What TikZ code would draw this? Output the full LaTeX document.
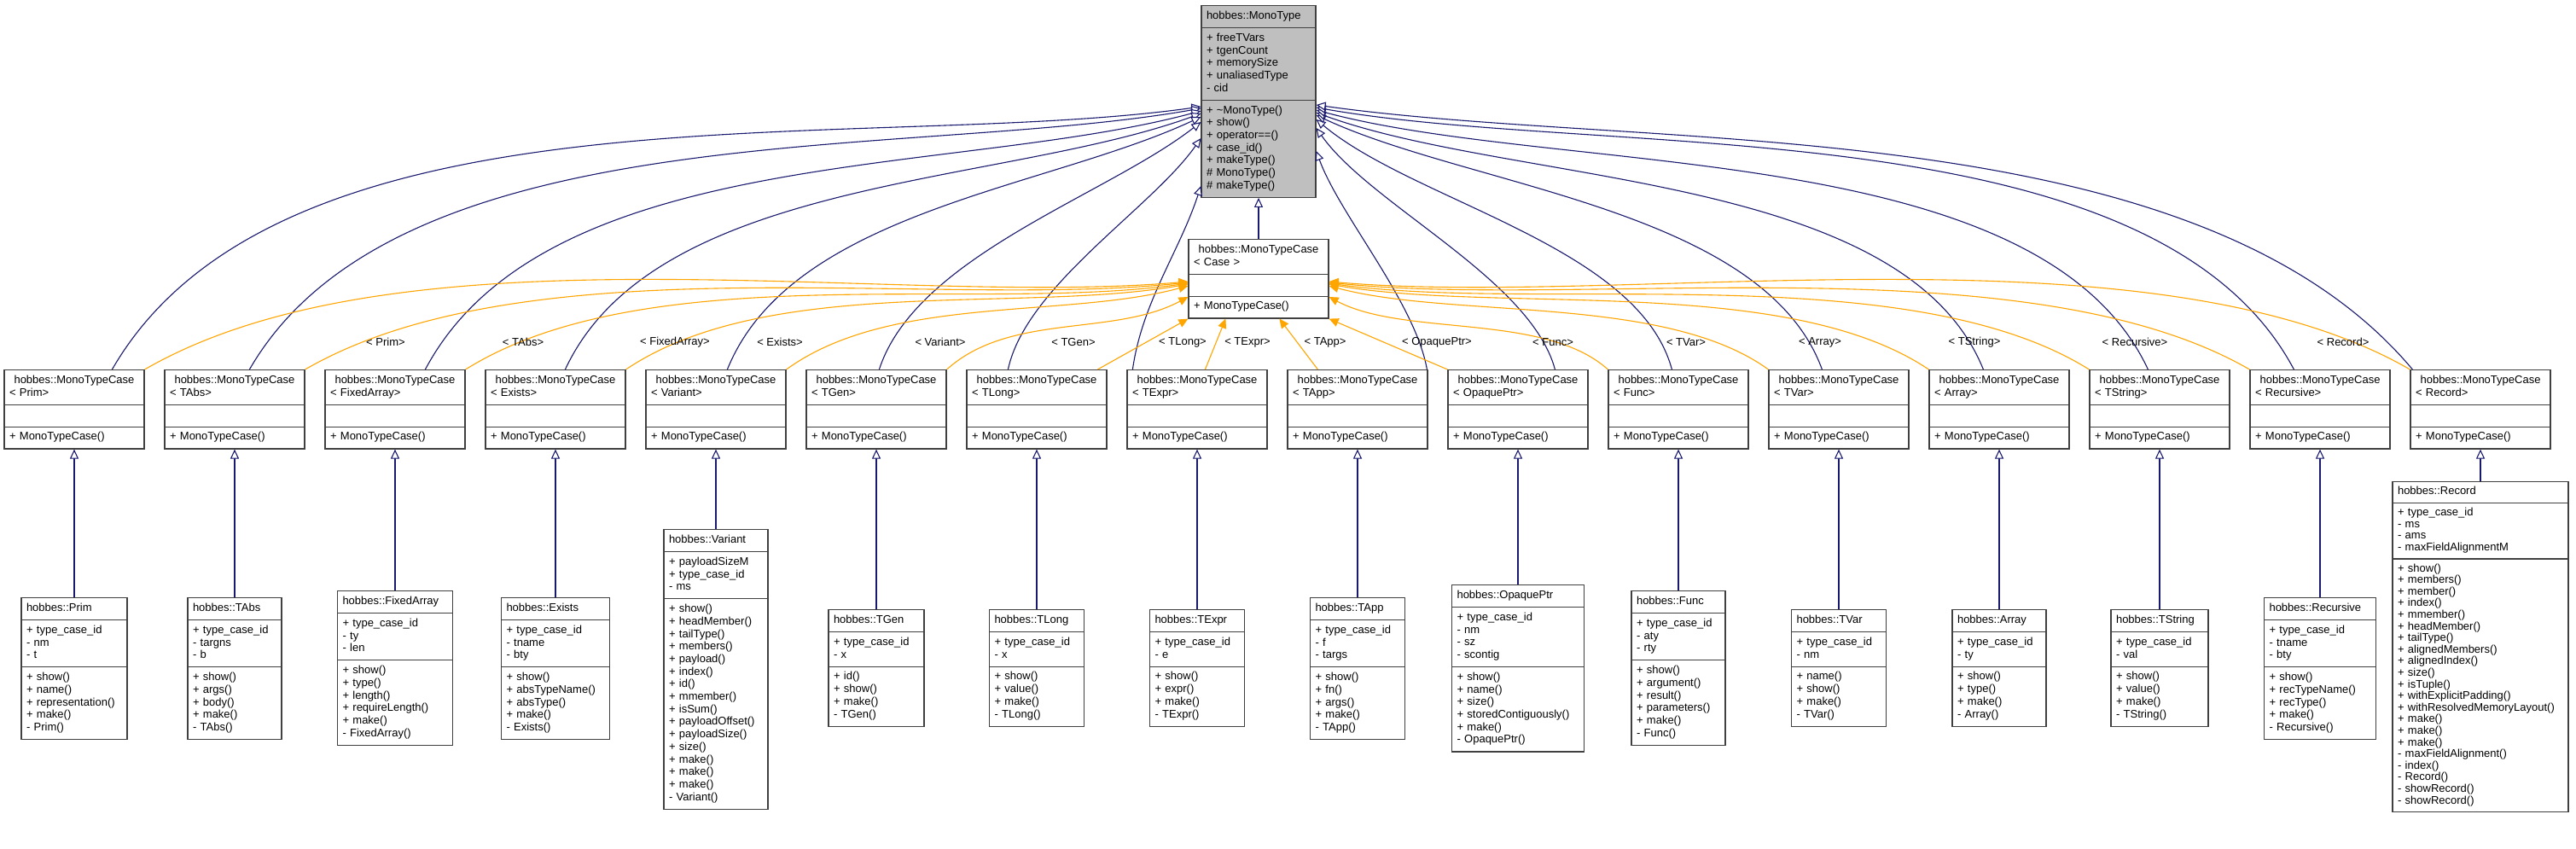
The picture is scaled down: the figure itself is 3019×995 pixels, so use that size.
\documentclass[tikz,border=0pt]{standalone}
\usepackage{fontspec}
\setmainfont{Liberation Sans}
\usetikzlibrary{shapes.multipart,arrows.meta,calc}
\definecolor{boxc}{HTML}{404040}
\definecolor{inhc}{HTML}{191970}
\definecolor{tplc}{HTML}{FFA500}
\newcommand\fs{\fontsize{13}{14.7}\selectfont}
\newcommand\fsr{\fontsize{13}{13.6}\selectfont}
\newcommand\mkcls[8][]{\node[cls=#3,#1] (#2) at (#4,#5) {\centering\strut #6\strut\nodepart{two}\raggedright\strut #7\strut\nodepart{three}\raggedright\strut #8\strut};}
% curve from A leaving at angle o (page angle) to B entering from angle a, control distances d
\newcommand\crv[6]{\draw[#1] (#2) .. controls ($(#2)+(-#4:#6)$) and ($(#3)+(-#5:#6)$) .. (#3);}
\tikzset{
  cls/.style={rectangle split, rectangle split parts=3, draw=boxc, line width=1.2pt, fill=white,
    inner xsep=6pt, inner ysep=5pt, text width=#1 pt, anchor=north, font=\fs},
  inh/.style={draw=inhc, line width=1.1pt, -{Triangle[open,fill=white,length=11pt,width=10pt]}},
  tpl/.style={draw=tplc, line width=1.1pt, -{Triangle[length=11pt,width=10pt]}},
  lbl/.style={font=\fs, inner sep=1pt}
}
\begin{document}
\begin{tikzpicture}[x=1pt,y=-1pt]
\fill[white] (0,0) rectangle (3019,995);
\useasboundingbox (0,0) rectangle (3019,995);
% base classes
\mkcls[fill={rgb,255:red,191;green,191;blue,191}]{mt}{122}{1475}{6}{hobbes::MonoType}
 {+ freeTVars\\+ tgenCount\\+ memorySize\\+ unaliasedType\\- cid}
 {+ \textasciitilde MonoType()\\+ show()\\+ operator==()\\+ case\_id()\\+ makeType()\\\# MonoType()\\\# makeType()}
\mkcls{case}{152}{1475}{280}{hobbes::MonoTypeCase\\< Case >}{}{+ MonoTypeCase()}
% middle row
\foreach \i/\n in {0/Prim,1/TAbs,2/FixedArray,3/Exists,4/Variant,5/TGen,6/TLong,7/TExpr,8/TApp,9/OpaquePtr,10/Func,11/TVar,12/Array,13/TString,14/Recursive,15/Record}
 {\mkcls{m\i}{152}{87+188*\i}{433}{hobbes::MonoTypeCase\\< \n >}{}{+ MonoTypeCase()}}
% bottom row
\mkcls{b0}{112}{87}{700}{hobbes::Prim}{+ type\_case\_id\\- nm\\- t}{+ show()\\+ name()\\+ representation()\\+ make()\\- Prim()}
\mkcls{b1}{98}{275}{700}{hobbes::TAbs}{+ type\_case\_id\\- targns\\- b}{+ show()\\+ args()\\+ body()\\+ make()\\- TAbs()}
\mkcls{b2}{123}{463}{692}{hobbes::FixedArray}{+ type\_case\_id\\- ty\\- len}{+ show()\\+ type()\\+ length()\\+ requireLength()\\+ make()\\- FixedArray()}
\mkcls{b3}{115}{651}{700}{hobbes::Exists}{+ type\_case\_id\\- tname\\- bty}{+ show()\\+ absTypeName()\\+ absType()\\+ make()\\- Exists()}
\mkcls{b4}{110}{839}{620}{hobbes::Variant}{+ payloadSizeM\\+ type\_case\_id\\- ms}{+ show()\\+ headMember()\\+ tailType()\\+ members()\\+ payload()\\+ index()\\+ id()\\+ mmember()\\+ isSum()\\+ payloadOffset()\\+ payloadSize()\\+ size()\\+ make()\\+ make()\\+ make()\\- Variant()}
\mkcls{b5}{100}{1027}{714}{hobbes::TGen}{+ type\_case\_id\\- x}{+ id()\\+ show()\\+ make()\\- TGen()}
\mkcls{b6}{99}{1215}{714}{hobbes::TLong}{+ type\_case\_id\\- x}{+ show()\\+ value()\\+ make()\\- TLong()}
\mkcls{b7}{99}{1403}{714}{hobbes::TExpr}{+ type\_case\_id\\- e}{+ show()\\+ expr()\\+ make()\\- TExpr()}
\mkcls{b8}{99}{1591}{700}{hobbes::TApp}{+ type\_case\_id\\- f\\- targs}{+ show()\\+ fn()\\+ args()\\+ make()\\- TApp()}
\mkcls{b9}{143}{1779}{685}{hobbes::OpaquePtr}{+ type\_case\_id\\- nm\\- sz\\- scontig}{+ show()\\+ name()\\+ size()\\+ storedContiguously()\\+ make()\\- OpaquePtr()}
\mkcls{b10}{98}{1967}{692}{hobbes::Func}{+ type\_case\_id\\- aty\\- rty}{+ show()\\+ argument()\\+ result()\\+ parameters()\\+ make()\\- Func()}
\mkcls{b11}{99}{2155}{714}{hobbes::TVar}{+ type\_case\_id\\- nm}{+ name()\\+ show()\\+ make()\\- TVar()}
\mkcls{b12}{98}{2343}{714}{hobbes::Array}{+ type\_case\_id\\- ty}{+ show()\\+ type()\\+ make()\\- Array()}
\mkcls{b13}{102}{2531}{714}{hobbes::TString}{+ type\_case\_id\\- val}{+ show()\\+ value()\\+ make()\\- TString()}
\mkcls{b14}{119}{2719}{700}{hobbes::Recursive}{+ type\_case\_id\\- tname\\- bty}{+ show()\\+ recTypeName()\\+ recType()\\+ make()\\- Recursive()}
\mkcls[font=\fsr]{b15}{194}{2907}{564}{hobbes::Record}{+ type\_case\_id\\- ms\\- ams\\- maxFieldAlignmentM}{+ show()\\+ members()\\+ member()\\+ index()\\+ mmember()\\+ headMember()\\+ tailType()\\+ alignedMembers()\\+ alignedIndex()\\+ size()\\+ isTuple()\\+ withExplicitPadding()\\+ withResolvedMemoryLayout()\\+ make()\\+ make()\\+ make()\\- maxFieldAlignment()\\- index()\\- Record()\\- showRecord()\\- showRecord()}
% vertical inheritance
\draw[inh] (case.north) -- (mt.south);
\foreach \i in {0,...,15} {\draw[inh] (b\i.north) -- (m\i.south);}
% inheritance from middle row to MonoType
\foreach \i/\dx/\dy/\o/\a/\d in {0/127/119/60/188/400,1/100/121/60/190/350,2/118/124/62/195/300,3/94/127/65/200/250,4/96/131/68/205/200,5/86/137/72/218/140,6/49/156/78/235/100,7/7/212/82/252/80}
 {\coordinate (s) at ($(m\i.north west)+(\dx,0)$); \coordinate (t) at ($(mt.north west)+(0,\dy)$); \crv{inh}{s}{t}{\o}{\a}{\d}}
\foreach \i/\dx/\dy/\o/\a/\d in {8/164/171/100/290/80,9/126/144/105/305/110,10/75/134/105/320/150,11/63/129/110/335/200,12/64/126/112/340/250,13/69/123/115/345/300,14/52/120/118/350/350,15/3/117/130/352/400}
 {\coordinate (s) at ($(m\i.north west)+(\dx,0)$); \coordinate (t) at ($(mt.north east)+(0,\dy)$); \crv{inh}{s}{t}{\o}{\a}{\d}}
% template instantiation
\foreach \i/\dy/\o/\a/\d in {0/50/30/185/350,1/51/30/186/300,2/52/32/188/250,3/53/34/190/200,4/55/36/195/150,5/68/42/208/100}
 {\coordinate (s) at (m\i.north east); \coordinate (t) at ($(case.north west)+(0,\dy)$); \crv{tpl}{s}{t}{\o}{\a}{\d}}
\draw[tpl] ($(m6.north west)+(154,0)$) -- (case.south west);
\draw[tpl] ($(m7.north west)+(92,0)$) -- ($(case.south west)+(44,0)$);
\draw[tpl] ($(m8.north west)+(36,0)$) -- ($(case.south west)+(107,0)$);
\draw[tpl] (m9.north west) -- (case.south east);
\foreach \i/\dy/\o/\a/\d in {10/68/138/332/100,11/55/144/345/150,12/53/146/350/200,13/52/148/352/250,14/51/150/354/300,15/50/150/355/350}
 {\coordinate (s) at (m\i.north west); \coordinate (t) at ($(case.north east)+(0,\dy)$); \crv{tpl}{s}{t}{\o}{\a}{\d}}
% labels
\foreach \i/\n/\x in {0/Prim/452,1/TAbs/613,2/FixedArray/791,3/Exists/914,4/Variant/1102,5/TGen/1258,6/TLong/1386,7/TExpr/1462,8/TApp/1553,9/OpaquePtr/1684,10/Func/1820,11/TVar/1976,12/Array/2133,13/TString/2314,14/Recursive/2502,15/Record/2746}
 {\node[lbl] (l\i) at (\x,401) {< \n >};}
\end{tikzpicture}
\end{document}
